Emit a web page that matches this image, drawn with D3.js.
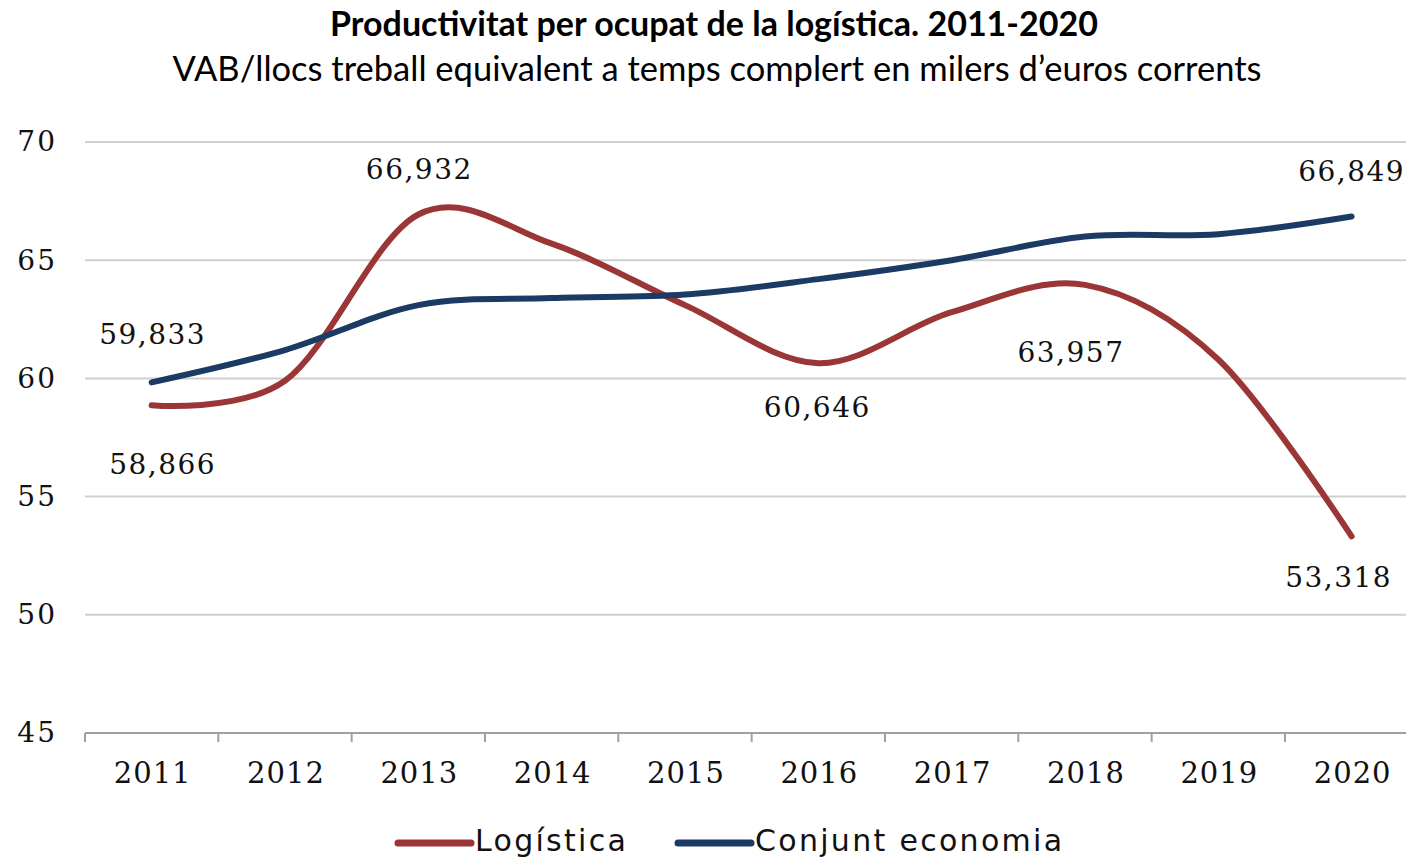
<!DOCTYPE html>
<html>
<head>
<meta charset="utf-8">
<script src="https://cdn.jsdelivr.net/npm/d3@7"></script>
<style>
  body { margin: 0; background: #fff; }
  svg { display: block; }
</style>
</head>
<body>
<div id="chart-area"></div>
<script>
// chart data
var years = ["2011", "2012", "2013", "2014", "2015", "2016", "2017", "2018", "2019", "2020"];
var logistica = [58.866, 59.9, 66.932, 65.7, 63.1, 60.646, 62.8, 63.957, 60.8, 53.318];
var conjunt = [59.833, 61.2, 63.1, 63.4, 63.55, 64.2, 65.0, 66.0, 66.1, 66.849];
var yTicks = [45, 50, 55, 60, 65, 70];

// which points get a value label, and where it sits relative to the point
var labelsLog = [
    { i: 0, dx: 10, dy: 69 },
    { i: 2, dx: 0, dy: -36 },
    { i: 5, dx: -2, dy: 54 },
    { i: 7, dx: -15, dy: 77 },
    { i: 9, dx: -14, dy: 51 }
];
var labelsConj = [
    { i: 0, dx: 0, dy: -38 },
    { i: 9, dx: -1, dy: -35 }
];

var width = 1406, height = 858;
var margin = { top: 142, left: 85, bottom: 125 };

var svg = d3.select("#chart-area")
    .append("svg")
        .attr("width", width)
        .attr("height", height);

// titles
svg.append("text")
    .attr("x", 714)
    .attr("y", 36)
    .attr("text-anchor", "middle")
    .attr("font-family", "Lato, 'Open Sans', sans-serif")
    .attr("font-weight", "bold")
    .attr("font-size", 34)
    .attr("fill", "#000")
    .text("Productivitat per ocupat de la logística. 2011-2020");

svg.append("text")
    .attr("x", 717)
    .attr("y", 81)
    .attr("text-anchor", "middle")
    .attr("font-family", "Lato, 'Open Sans', sans-serif")
    .attr("font-size", 34.5)
    .attr("fill", "#000")
    .text("VAB/llocs treball equivalent a temps complert en milers d’euros corrents");

var x = d3.scaleBand()
    .domain(years)
    .range([margin.left, margin.left + 133.33 * years.length]);

var y = d3.scaleLinear()
    .domain([45, 70])
    .range([height - margin.bottom, margin.top]);

var numFont = "'DejaVu Serif', serif";

// gridlines
svg.append("g")
    .selectAll("line")
    .data(yTicks.filter(d => d > 45))
    .enter()
    .append("line")
        .attr("x1", margin.left)
        .attr("x2", width)
        .attr("y1", d => y(d))
        .attr("y2", d => y(d))
        .attr("stroke", "#cfcfcf")
        .attr("stroke-width", 2);

// y axis labels
var yAxisCall = d3.axisLeft(y)
    .tickValues(yTicks)
    .tickSize(0)
    .tickPadding(28);
var yAxis = svg.append("g")
    .attr("transform", "translate(" + margin.left + ",0)")
    .call(yAxisCall);
yAxis.select(".domain").remove();
yAxis.selectAll("text")
    .attr("font-family", numFont)
    .attr("font-size", 28)
    .attr("letter-spacing", 2)
    .attr("fill", "#111");

// x axis
var xAxisCall = d3.axisBottom(x).tickSize(0).tickPadding(29);
var xAxis = svg.append("g")
    .attr("transform", "translate(0," + y(45) + ")")
    .call(xAxisCall);
xAxis.select(".domain").remove();
xAxis.selectAll("text")
    .attr("font-family", numFont)
    .attr("font-size", 29)
    .attr("letter-spacing", 1)
    .attr("dx", 1)
    .attr("fill", "#111");

svg.append("line")
    .attr("x1", margin.left)
    .attr("x2", width)
    .attr("y1", y(45))
    .attr("y2", y(45))
    .attr("stroke", "#a0a0a0")
    .attr("stroke-width", 2);

svg.append("g")
    .selectAll("line")
    .data(years)
    .enter()
    .append("line")
        .attr("x1", d => x(d))
        .attr("x2", d => x(d))
        .attr("y1", y(45))
        .attr("y2", y(45) + 9)
        .attr("stroke", "#a0a0a0")
        .attr("stroke-width", 2);

// lines
var line = d3.line()
    .x((d, i) => x(years[i]) + x.bandwidth() / 2)
    .y(d => y(d))
    .curve(d3.curveCatmullRom.alpha(0));

var redCol = "#9b3636", blueCol = "#1b3a64";

svg.append("path")
    .datum(logistica)
    .attr("d", line)
    .attr("fill", "none")
    .attr("stroke", redCol)
    .attr("stroke-width", 6)
    .attr("stroke-linecap", "round");

svg.append("path")
    .datum(conjunt)
    .attr("d", line)
    .attr("fill", "none")
    .attr("stroke", blueCol)
    .attr("stroke-width", 6)
    .attr("stroke-linecap", "round");

// value labels
function fmt(v) {
    return v.toFixed(3).replace(".", ",");
}

function addLabels(series, labels) {
    svg.append("g")
        .selectAll("text")
        .data(labels)
        .enter()
        .append("text")
            .attr("x", d => x(years[d.i]) + x.bandwidth() / 2 + d.dx + 1)
            .attr("y", d => y(series[d.i]) + d.dy)
            .attr("text-anchor", "middle")
            .attr("font-family", numFont)
            .attr("font-size", 28)
            .attr("letter-spacing", 1.5)
            .attr("fill", "#111")
            .text(d => fmt(series[d.i]));
}
addLabels(logistica, labelsLog);
addLabels(conjunt, labelsConj);

// legend
var legend = [
    { name: "Logística", color: redCol, x: 398 },
    { name: "Conjunt economia", color: blueCol, x: 678 }
];
var lg = svg.append("g").selectAll("g")
    .data(legend)
    .enter()
    .append("g")
        .attr("transform", d => "translate(" + d.x + ",843)");
lg.append("line")
    .attr("x1", 0)
    .attr("x2", 73)
    .attr("stroke", d => d.color)
    .attr("stroke-width", 7)
    .attr("stroke-linecap", "round");
lg.append("text")
    .attr("x", 77)
    .attr("y", 8)
    .attr("font-family", "'DejaVu Sans', sans-serif")
    .attr("font-size", 30)
    .attr("letter-spacing", 2.3)
    .attr("fill", "#111")
    .text(d => d.name);
</script>
</body>
</html>
